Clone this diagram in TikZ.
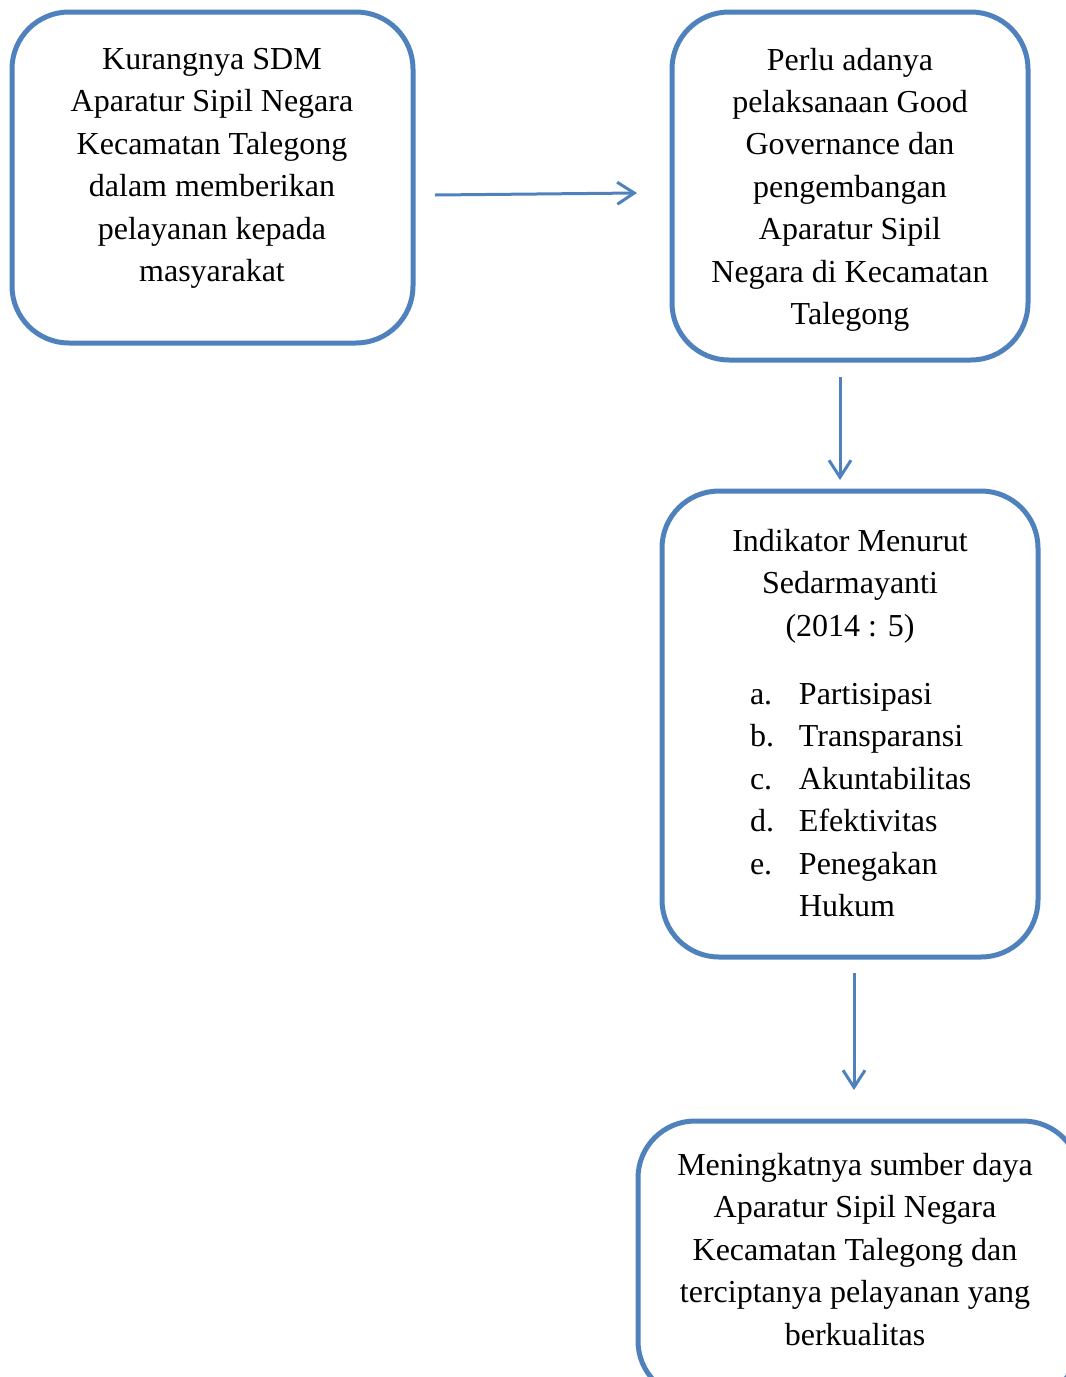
\documentclass[tikz,border=0pt]{standalone}
\usepackage{fontspec}
\setmainfont{Liberation Serif}
\usetikzlibrary{arrows.meta}
\definecolor{boxblue}{HTML}{4F81BD}
\tikzset{
  box/.style={draw=boxblue, line width=5pt, rounded corners=57pt, rectangle, inner sep=0pt, outer sep=0pt},
  txt/.style={inner sep=0pt, outer sep=0pt, anchor=base, font=\fontsize{32}{42.4}\selectfont},
  conn/.style={draw=boxblue, line width=3pt, -{Straight Barb[length=17pt,width=22pt,line width=3pt]}}
}
\begin{document}
\begin{tikzpicture}[x=1pt,y=-1pt]
\useasboundingbox (0,0) rectangle (1066,1377);
\clip (0,0) rectangle (1066,1377);
% boxes
\node[box, minimum width=401pt, minimum height=331pt] (b1) at (212.5,177.5) {};
\node[box, minimum width=356pt, minimum height=348pt] (b2) at (850,186) {};
\node[box, minimum width=376pt, minimum height=466pt] (b3) at (850,724) {};
\node[box, minimum width=442pt, minimum height=277pt] (b4) at (859,1259.5) {};
% texts
\node[txt] (t1) at (212,69.5) {\parbox[t]{390pt}{\centering Kurangnya SDM\\ Aparatur Sipil Negara\\ Kecamatan Talegong\\ dalam memberikan\\ pelayanan kepada\\ masyarakat}};
\node[txt] (t2) at (850,70) {\parbox[t]{340pt}{\centering Perlu adanya\\ pelaksanaan Good\\ Governance dan\\ pengembangan\\ Aparatur Sipil\\ Negara di Kecamatan\\ Talegong}};
\node[txt] (t3) at (850,551.5) {\parbox[t]{360pt}{\centering Indikator Menurut\\ Sedarmayanti\\ (2014 : 5)}};
\node[txt, anchor=base west] (t3l) at (750,704.5) {\parbox[t]{270pt}{\raggedright
\makebox[49pt][l]{a.}Partisipasi\\
\makebox[49pt][l]{b.}Transparansi\\
\makebox[49pt][l]{c.}Akuntabilitas\\
\makebox[49pt][l]{d.}Efektivitas\\
\makebox[49pt][l]{e.}Penegakan\\
\hspace*{49pt}Hukum}};
\node[txt] (t4) at (855,1175.5) {\parbox[t]{420pt}{\centering Meningkatnya sumber daya\\ Aparatur Sipil Negara\\ Kecamatan Talegong dan\\ terciptanya pelayanan yang\\ berkualitas}};
% connector end points
\coordinate (a1s) at (435,195);
\coordinate (a1e) at (637,193);
\coordinate (a2s) at (840,377);
\coordinate (a2e) at (840,480);
\coordinate (a3s) at (854,973);
\coordinate (a3e) at (854,1090);
\draw[conn] (a1s) -- (a1e);
\draw[conn] (a2s) -- (a2e);
\draw[conn] (a3s) -- (a3e);
\end{tikzpicture}
\end{document}
